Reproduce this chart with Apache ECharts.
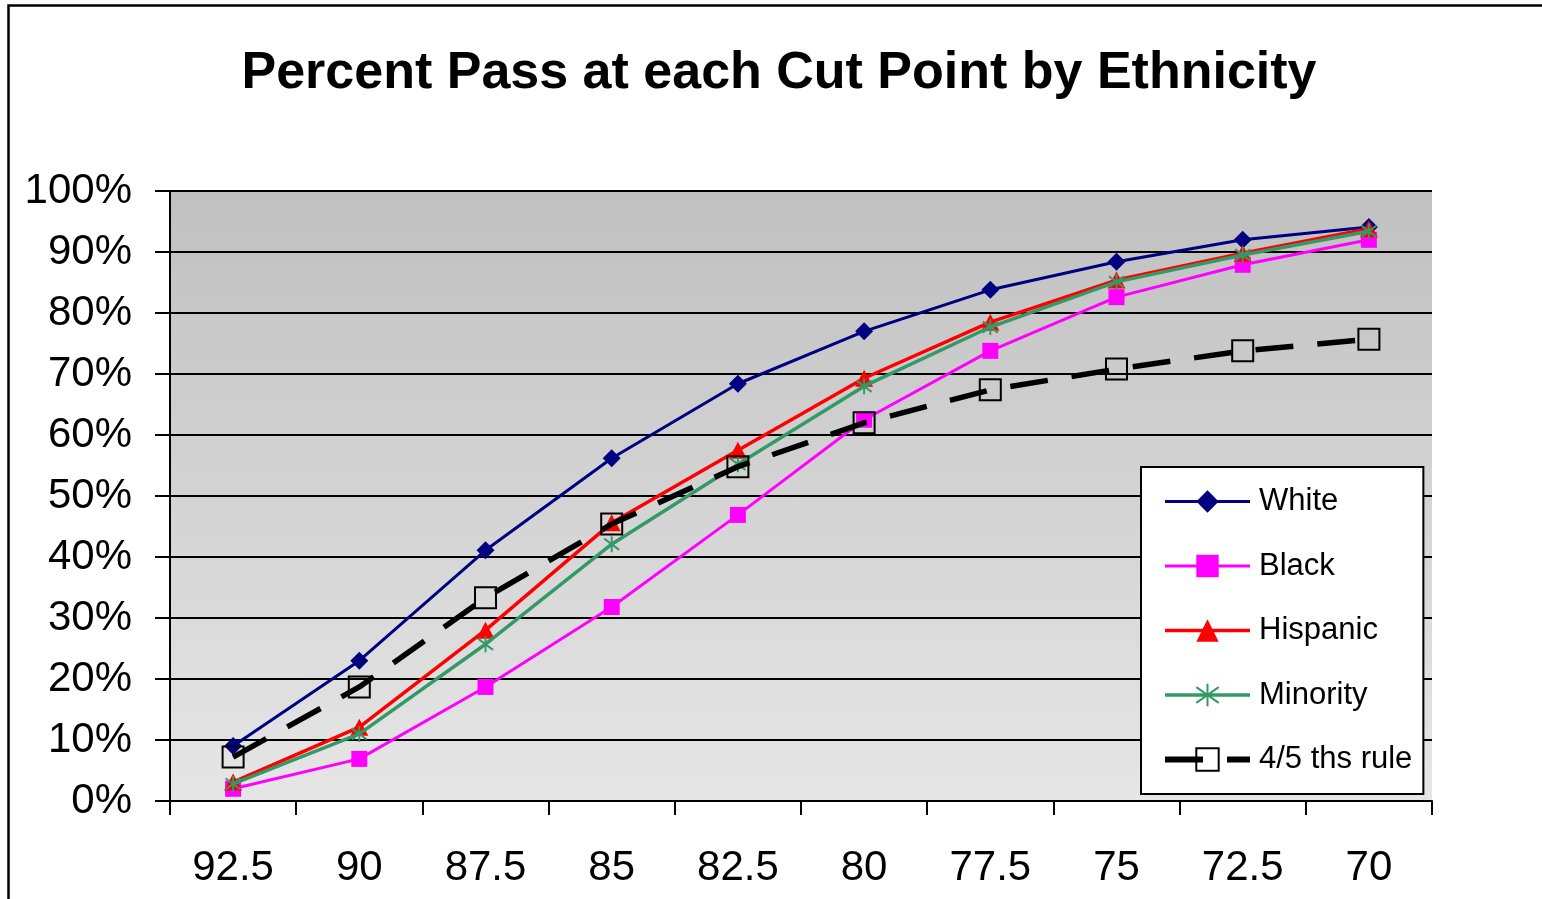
<!DOCTYPE html>
<html>
<head>
<meta charset="utf-8">
<script src="https://cdn.jsdelivr.net/npm/echarts@6/dist/echarts.min.js"></script>
<style>
html,body{margin:0;padding:0;background:#fff;}
#chart{width:1542px;height:899px;}
</style>
</head>
<body>
<div id="chart"></div>
<script>
const categories = ['92.5','90','87.5','85','82.5','80','77.5','75','72.5','70'];
const white    = [9.0, 23.0, 41.1, 56.2, 68.4, 77.0, 83.8, 88.4, 92.0, 94.1];
const black    = [2.0, 6.9, 18.7, 31.8, 46.9, 62.5, 73.8, 82.6, 87.9, 92.0];
const hispanic = [3.1, 12.1, 28.0, 45.6, 57.5, 69.3, 78.5, 85.4, 89.8, 93.8];
const minority = [2.8, 11.0, 25.7, 42.1, 55.2, 68.0, 77.7, 85.1, 89.5, 93.4];
const fourFifths = [7.2, 18.7, 33.3, 45.4, 54.8, 62.0, 67.4, 70.8, 73.8, 75.7];
const yTicks = [0,10,20,30,40,50,60,70,80,90,100];

const FONT = '"Liberation Sans", Arial, sans-serif';
const chart = echarts.init(document.getElementById('chart'), null, {renderer:'canvas'});
const asterisk = 'path://M10,0 L10,20 M3,3 L17,17 M3,17 L17,3';

chart.setOption({
  backgroundColor:'#ffffff',
  animation:false,
  graphic:[{
    type:'rect', z:-10, silent:true,
    shape:{x:8.5, y:5.5, width:1700, height:1100},
    style:{fill:'none', stroke:'#000', lineWidth:2.5}
  }],
  title:{
    text:'Percent Pass at each Cut Point by Ethnicity',
    left:774, top:43, textAlign:'center',
    textStyle:{fontFamily:FONT, fontWeight:'bold', fontSize:52, color:'#000'}
  },
  grid:{
    left:170, right:110, top:191, bottom:98,
    show:true, borderWidth:0,
    backgroundColor:new echarts.graphic.LinearGradient(0,0,0,1,[
      {offset:0,color:'#c0c0c0'},{offset:1,color:'#e6e6e6'}
    ])
  },
  legend:{
    orient:'vertical', left:1141, top:467,
    backgroundColor:'#ffffff', borderColor:'#000', borderWidth:2,
    padding:[19,11,19,21],
    itemWidth:85, itemHeight:28, itemGap:33.5,
    textStyle:{fontFamily:FONT, fontSize:31, color:'#000', lineHeight:31, padding:[0,0,0,4]},
    data:[
      {name:'White', lineStyle:{width:3}},
      {name:'Black', lineStyle:{width:3}},
      {name:'Hispanic', lineStyle:{width:3.5}},
      {name:'Minority', lineStyle:{width:3.5}},
      {name:'4/5 ths rule', lineStyle:{width:6}}
    ]
  },
  xAxis:{
    type:'category', data:categories, boundaryGap:true,
    axisLine:{show:true, lineStyle:{color:'#000', width:2}},
    axisTick:{show:true, inside:false, length:14, lineStyle:{color:'#000', width:2}},
    axisLabel:{fontFamily:FONT, fontSize:42, color:'#000', margin:46},
    splitLine:{show:false}
  },
  yAxis:{
    type:'value', min:0, max:100, interval:10,
    axisLine:{show:true, lineStyle:{color:'#000', width:2}},
    axisTick:{show:true, inside:false, length:15, lineStyle:{color:'#000', width:2}},
    axisLabel:{fontFamily:FONT, fontSize:42, color:'#000', margin:38,
      formatter:function(v){return yTicks.indexOf(v)>=0 ? v+'%' : '';}},
    splitLine:{show:true, lineStyle:{color:'#000', width:2}}
  },
  series:[
    {name:'White', type:'line', data:white, symbol:'diamond', symbolSize:18,
     lineStyle:{color:'#000080', width:3}, itemStyle:{color:'#000080'}, z:2},
    {name:'Black', type:'line', data:black, symbol:'rect', symbolSize:16,
     lineStyle:{color:'#ff00ff', width:3}, itemStyle:{color:'#ff00ff'}, z:3},
    {name:'Hispanic', type:'line', data:hispanic, symbol:'triangle', symbolSize:[18,17],
     lineStyle:{color:'#ff0000', width:3.5}, itemStyle:{color:'#ff0000'}, z:4},
    {name:'Minority', type:'line', data:minority, symbol:asterisk, symbolSize:[15,16], symbolKeepAspect:false,
     lineStyle:{color:'#339966', width:3.5}, itemStyle:{color:'#339966', borderColor:'#339966', borderWidth:2}, z:5},
    {name:'4/5 ths rule', type:'line', data:fourFifths, symbol:'rect', symbolSize:21,
     lineStyle:{color:'#000000', width:5.5, type:[38,24]},
     itemStyle:{color:'rgba(0,0,0,0)', borderColor:'#000', borderWidth:2}, z:6}
  ]
});
</script>
</body>
</html>
